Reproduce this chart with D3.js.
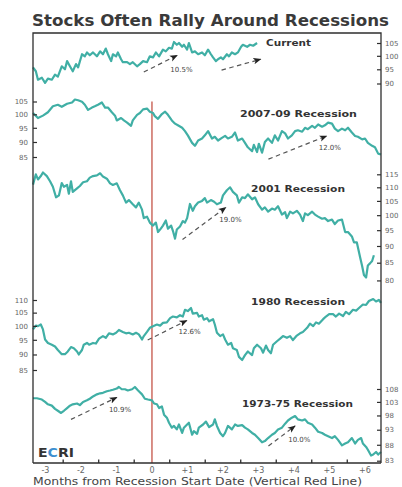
<!DOCTYPE html>
<html><head><meta charset="utf-8">
<script src="https://cdn.jsdelivr.net/npm/d3@7"></script>
<style>html,body{margin:0;padding:0;background:#fff;} svg{display:block;}</style>
</head><body><svg id="c" width="402" height="487"></svg>
<script>
// ---------- DATA (months from recession start, index value) ----------
const current = [[-3.35,95.7],[-3.27,94.3],[-3.21,91.3],[-3.10,92.0],[-3.01,90.2],[-2.93,91.7],[-2.82,91.3],[-2.73,93.1],[-2.65,92.4],[-2.54,96.1],[-2.45,95.0],[-2.39,98.0],[-2.31,96.1],[-2.23,94.3],[-2.14,96.9],[-2.08,95.7],[-1.97,100.6],[-1.89,99.8],[-1.83,101.3],[-1.75,100.2],[-1.66,101.3],[-1.55,99.8],[-1.46,101.7],[-1.38,100.6],[-1.30,102.8],[-1.24,100.6],[-1.15,98.0],[-1.10,100.6],[-1.01,99.8],[-0.96,101.3],[-0.87,98.7],[-0.82,97.6],[-0.70,97.6],[-0.62,96.9],[-0.54,97.6],[-0.42,96.1],[-0.34,96.9],[-0.25,98.0],[-0.14,97.6],[-0.06,99.8],[0.03,99.4],[0.11,101.3],[0.20,99.8],[0.31,102.4],[0.39,101.7],[0.48,103.1],[0.56,102.8],[0.62,105.4],[0.70,104.3],[0.76,105.0],[0.85,103.5],[0.90,104.3],[0.99,102.4],[1.04,105.0],[1.13,101.3],[1.21,101.7],[1.30,100.6],[1.41,101.3],[1.49,100.2],[1.58,102.4],[1.66,100.6],[1.72,99.4],[1.80,98.0],[1.86,98.7],[1.94,99.4],[2.00,98.7],[2.11,100.6],[2.17,99.8],[2.25,101.3],[2.34,100.6],[2.42,101.3],[2.51,103.5],[2.56,104.3],[2.68,103.5],[2.76,104.3],[2.85,103.9],[2.96,105.0]];

const rec2007 = [[-3.35,100.5],[-3.21,98.6],[-3.07,99.5],[-2.93,100.8],[-2.79,103.1],[-2.65,103.7],[-2.54,102.9],[-2.39,104.1],[-2.25,104.6],[-2.17,105.8],[-2.08,105.5],[-1.97,104.9],[-1.89,103.7],[-1.80,101.7],[-1.69,102.6],[-1.61,103.1],[-1.52,103.7],[-1.41,104.6],[-1.32,102.6],[-1.24,102.6],[-1.13,100.8],[-1.04,99.5],[-0.99,97.7],[-0.87,98.6],[-0.79,97.7],[-0.70,96.9],[-0.59,95.7],[-0.54,97.7],[-0.42,99.8],[-0.34,100.5],[-0.25,101.9],[-0.14,102.2],[-0.06,101.0],[0.03,100.5],[0.08,99.3],[0.17,98.3],[0.28,100.1],[0.37,101.0],[0.45,99.8],[0.56,97.7],[0.65,96.5],[0.73,95.9],[0.85,95.0],[0.93,93.8],[1.01,92.3],[1.13,89.7],[1.21,88.7],[1.30,90.5],[1.41,91.2],[1.49,92.3],[1.58,93.8],[1.69,91.2],[1.77,91.8],[1.86,90.5],[1.97,91.4],[2.06,92.1],[2.14,91.2],[2.25,91.8],[2.34,93.3],[2.42,90.5],[2.54,91.2],[2.62,89.7],[2.70,88.2],[2.82,86.9],[2.87,89.0],[2.96,86.6],[3.01,89.4],[3.10,86.4],[3.18,90.0],[3.27,91.2],[3.38,89.7],[3.46,92.3],[3.55,90.5],[3.66,93.8],[3.75,93.0],[3.83,91.2],[3.94,92.3],[4.03,93.8],[4.11,94.1],[4.23,93.6],[4.31,95.0],[4.39,94.5],[4.51,95.7],[4.59,95.0],[4.68,96.2],[4.79,95.4],[4.87,95.9],[4.96,96.9],[5.07,96.5],[5.15,94.7],[5.24,93.8],[5.35,94.7],[5.44,94.1],[5.52,95.0],[5.63,93.3],[5.72,92.1],[5.80,91.8],[5.92,90.9],[6.00,91.2],[6.08,89.7],[6.20,88.7],[6.28,88.2],[6.37,86.1],[6.45,85.8]];

const rec2001 = [[-3.35,111.0],[-3.27,115.0],[-3.21,113.0],[-3.13,114.3],[-3.07,115.7],[-2.96,114.3],[-2.87,112.3],[-2.79,110.2],[-2.70,106.3],[-2.62,107.0],[-2.54,111.6],[-2.48,110.2],[-2.39,110.9],[-2.34,107.6],[-2.28,112.3],[-2.23,108.3],[-2.11,109.6],[-2.03,110.5],[-1.94,111.9],[-1.83,112.3],[-1.75,113.7],[-1.66,114.3],[-1.55,114.6],[-1.46,115.4],[-1.38,114.1],[-1.27,113.3],[-1.18,111.5],[-1.10,110.9],[-0.99,111.5],[-0.90,108.9],[-0.82,107.0],[-0.73,104.4],[-0.65,105.3],[-0.54,103.8],[-0.45,102.7],[-0.37,104.4],[-0.28,101.9],[-0.23,99.0],[-0.14,99.5],[-0.06,97.5],[0.03,96.5],[0.11,97.5],[0.17,94.4],[0.25,95.5],[0.31,96.5],[0.39,98.2],[0.45,95.5],[0.54,96.5],[0.59,94.8],[0.65,92.3],[0.70,95.2],[0.79,96.2],[0.87,98.0],[0.93,97.5],[0.99,99.0],[1.07,103.9],[1.15,101.5],[1.21,103.1],[1.30,104.4],[1.41,105.0],[1.49,106.0],[1.55,104.4],[1.66,105.3],[1.75,104.7],[1.83,103.8],[1.94,104.4],[2.00,107.0],[2.11,108.9],[2.20,110.0],[2.28,108.3],[2.39,107.0],[2.45,104.4],[2.54,106.3],[2.62,106.0],[2.70,107.4],[2.82,105.6],[2.90,106.3],[2.99,103.8],[3.10,101.9],[3.18,102.7],[3.27,101.2],[3.38,102.3],[3.46,101.9],[3.55,103.1],[3.66,100.2],[3.75,101.0],[3.80,99.0],[3.89,101.2],[3.97,100.6],[4.08,101.5],[4.17,100.2],[4.25,98.0],[4.31,100.6],[4.39,100.0],[4.51,101.2],[4.59,100.2],[4.68,99.5],[4.79,98.8],[4.87,99.0],[4.96,98.0],[5.07,98.5],[5.15,97.0],[5.24,98.2],[5.35,98.5],[5.44,94.4],[5.52,94.4],[5.63,93.0],[5.69,91.1],[5.77,91.1],[5.86,86.7],[5.92,84.0],[5.97,81.5],[6.03,80.8],[6.08,84.2],[6.14,84.8],[6.20,85.5],[6.25,87.2]];

const rec1980 = [[-3.35,98.7],[-3.27,100.1],[-3.21,99.9],[-3.13,100.5],[-3.07,98.7],[-3.01,95.1],[-2.93,93.9],[-2.82,93.3],[-2.73,92.7],[-2.65,91.5],[-2.54,90.1],[-2.45,90.1],[-2.37,91.0],[-2.28,92.5],[-2.20,92.1],[-2.11,91.0],[-2.06,90.0],[-1.97,91.5],[-1.92,93.3],[-1.83,93.9],[-1.77,93.3],[-1.66,93.9],[-1.58,93.7],[-1.49,95.4],[-1.38,96.3],[-1.30,95.7],[-1.21,97.3],[-1.10,96.9],[-1.01,97.5],[-0.93,98.5],[-0.82,97.8],[-0.73,97.3],[-0.65,97.5],[-0.54,96.9],[-0.45,97.5],[-0.37,96.9],[-0.28,95.1],[-0.23,96.3],[-0.14,97.8],[-0.06,99.3],[0.03,99.9],[0.14,100.5],[0.23,100.1],[0.31,101.1],[0.42,101.3],[0.51,102.9],[0.59,103.5],[0.70,103.2],[0.79,104.0],[0.87,103.5],[0.93,106.1],[1.01,105.6],[1.10,106.8],[1.15,104.6],[1.27,104.9],[1.32,103.5],[1.41,104.0],[1.46,102.3],[1.55,102.9],[1.61,101.7],[1.72,102.5],[1.77,100.5],[1.83,97.5],[1.92,96.3],[2.00,96.9],[2.06,95.1],[2.14,93.3],[2.23,93.9],[2.28,92.1],[2.39,91.5],[2.45,89.2],[2.54,88.2],[2.62,89.8],[2.70,91.0],[2.82,89.8],[2.87,92.1],[2.96,93.3],[3.07,92.1],[3.13,90.6],[3.21,93.0],[3.27,91.5],[3.35,90.4],[3.41,93.3],[3.52,94.5],[3.61,95.4],[3.69,96.3],[3.80,95.7],[3.89,96.3],[3.97,94.9],[4.08,96.5],[4.17,97.3],[4.25,97.8],[4.37,99.3],[4.45,100.8],[4.54,99.9],[4.62,101.3],[4.70,100.8],[4.82,102.5],[4.90,103.5],[4.99,104.4],[5.10,104.4],[5.18,103.5],[5.27,104.6],[5.38,103.7],[5.46,105.3],[5.55,104.4],[5.66,106.1],[5.75,105.8],[5.83,106.8],[5.94,108.2],[6.03,108.0],[6.11,109.6],[6.23,110.4],[6.31,109.4],[6.39,110.0],[6.45,108.8]];

const rec1973 = [[-3.35,104.4],[-3.24,104.4],[-3.10,103.9],[-3.01,103.0],[-2.93,102.1],[-2.82,101.6],[-2.73,100.4],[-2.65,99.7],[-2.56,98.9],[-2.48,99.7],[-2.39,100.7],[-2.31,101.6],[-2.23,102.1],[-2.11,102.4],[-2.03,101.8],[-1.94,103.0],[-1.83,103.6],[-1.75,104.2],[-1.66,105.1],[-1.55,105.9],[-1.46,106.3],[-1.38,106.5],[-1.27,107.1],[-1.18,107.4],[-1.10,107.7],[-0.99,108.2],[-0.93,108.8],[-0.85,107.9],[-0.76,107.9],[-0.68,107.4],[-0.56,107.9],[-0.48,108.8],[-0.39,107.4],[-0.28,105.9],[-0.20,104.2],[-0.11,103.9],[0.00,103.6],[0.06,102.4],[0.14,102.1],[0.20,100.7],[0.28,101.3],[0.34,98.3],[0.42,97.2],[0.48,95.4],[0.56,93.7],[0.62,94.3],[0.70,93.1],[0.76,94.8],[0.85,91.9],[0.90,93.7],[0.99,94.8],[1.04,95.4],[1.13,91.3],[1.18,92.5],[1.27,91.6],[1.32,93.7],[1.44,94.8],[1.52,95.8],[1.61,93.9],[1.72,94.8],[1.77,96.6],[1.83,94.3],[1.92,91.9],[2.00,90.8],[2.06,91.9],[2.14,94.3],[2.25,93.1],[2.34,94.8],[2.42,94.3],[2.54,94.6],[2.62,93.7],[2.70,93.1],[2.82,91.9],[2.90,91.3],[2.99,90.2],[3.10,88.8],[3.18,89.2],[3.27,90.2],[3.38,91.3],[3.46,91.9],[3.55,93.1],[3.66,93.7],[3.75,95.1],[3.83,96.2],[3.94,97.2],[4.03,97.8],[4.11,96.6],[4.23,96.2],[4.31,96.6],[4.39,95.4],[4.51,94.8],[4.59,93.7],[4.68,92.3],[4.79,91.9],[4.87,91.3],[4.96,90.8],[5.07,90.2],[5.15,90.8],[5.24,89.6],[5.35,87.8],[5.44,88.4],[5.52,88.8],[5.63,90.2],[5.72,88.4],[5.80,89.6],[5.89,90.2],[5.94,88.4],[6.03,87.3],[6.08,86.4],[6.17,84.6],[6.23,84.9],[6.31,85.7],[6.37,84.9],[6.45,85.7]];

const panelNames = ["Current", "2007-09 Recession", "2001 Recession", "1980 Recession", "1973-75 Recession"];
const panelTicks = [
  [90, 95, 100, 105],
  [85, 90, 95, 100, 105],
  [80, 85, 90, 95, 100, 105, 110, 115],
  [85, 90, 95, 100, 105, 110],
  [83, 88, 93, 98, 103, 108]
];
const xTickValues = [-3, -2, -1, 0, 1, 2, 3, 4, 5, 6];
const xTickLabels = ["-3", "-2", "-1", "0", "+1", "+2", "+3", "+4", "+5", "+6"];
const xMinorTicks = [-2.5, -1.5, -0.5, 0.5, 1.5, 2.5, 3.5, 4.5, 5.5];
// rally arrows: panel, start month, start value, end month, end value
const arrowPanel = [0, 0, 1, 2, 3, 4, 4];
const arrowFrom  = [[-0.23, 94.0], [1.96, 94.7], [3.28, 84.3], [0.86, 92.0], [-0.12, 94.9], [-2.28, 96.6], [3.28, 87.6]];
const arrowTo    = [[0.71, 100.2], [3.06, 98.7], [4.92, 92.1], [2.08, 102.7], [0.98, 102.0], [-0.99, 104.7], [4.03, 94.3]];
const gainLabels = ["10.5%", "12.0%", "19.0%", "12.6%", "10.9%", "10.0%"];
const gainPanel  = [0, 1, 2, 3, 4, 4];
const gainPos    = [[0.83, 94.1], [5.01, 87.2], [2.21, 97.7], [1.06, 97.1], [-0.90, 99.3], [4.15, 88.8]];

// ---------- LAYOUT ----------
const L = 33, R = 381, T = 33, B = 463;
const svg = d3.select("#c");
const teal = "#40afa5", ink = "#2e2e2e";
const x = d3.scaleLinear().domain([-3.35, 6.45]).range([L, R]);

const panels = [
  {side: "right", dom: [90, 105], rng: [83.5, 43],    lab: [266, 46],    lw: 45},
  {side: "left",  dom: [85, 105], rng: [157, 101.5],  lab: [240, 116.5], lw: 117},
  {side: "right", dom: [85, 110], rng: [262.7, 187.3],lab: [251, 191.7], lw: 94},
  {side: "left",  dom: [85, 110], rng: [370, 300],    lab: [251, 305],   lw: 94},
  {side: "right", dom: [83, 108], rng: [460.7, 389],  lab: [242, 407],   lw: 111}
];
const seriesList = [current, rec2007, rec2001, rec1980, rec1973];
panels.forEach(p => { p.y = d3.scaleLog().domain(p.dom).range(p.rng); });

svg.append("defs").append("marker")
  .attr("id", "ah").attr("viewBox", "0 0 10 10").attr("refX", 9).attr("refY", 5)
  .attr("markerWidth", 8).attr("markerHeight", 8).attr("orient", "auto")
  .attr("markerUnits", "userSpaceOnUse")
  .append("path").attr("d", "M0,1 L10,5 L0,9 L2.5,5 Z").attr("fill", "#222");

svg.append("text").attr("x", 32).attr("y", 26)
  .attr("font-family", "DejaVu Sans, sans-serif").attr("font-weight", "bold")
  .attr("font-size", 16.5).attr("fill", "#3a3a3a")
  .attr("textLength", 357).attr("lengthAdjust", "spacingAndGlyphs")
  .text("Stocks Often Rally Around Recessions");

svg.append("line").attr("x1", x(0)).attr("x2", x(0)).attr("y1", 101.5).attr("y2", B)
  .attr("stroke", "#cc6b60").attr("stroke-width", 1.5);

const line = d3.line().x(d => x(d[0]));
seriesList.forEach((s, i) => {
  const p = panels[i];
  svg.append("path").datum(s)
    .attr("d", line.y(d => p.y(d[1])))
    .attr("fill", "none").attr("stroke", teal).attr("stroke-width", 2.2)
    .attr("stroke-linejoin", "round");
});

panels.forEach((p, i) => {
  const g = svg.append("g");
  const isRight = p.side === "right";
  const ax = isRight ? d3.axisRight(p.y) : d3.axisLeft(p.y);
  ax.tickValues(panelTicks[i]).tickFormat(d3.format("d")).tickSize(0).tickPadding(isRight ? 4 : 5);
  g.attr("transform", `translate(${isRight ? R : L},0)`).call(ax);
  g.select(".domain").remove();
  g.selectAll("text").attr("font-family", "DejaVu Sans, sans-serif").attr("font-size", 7)
    .attr("fill", "#666");
  g.selectAll(".tick").append("line")
    .attr("x1", 0).attr("x2", isRight ? -4 : 4)
    .attr("stroke", ink).attr("stroke-width", 1.2);
  svg.append("text").attr("x", p.lab[0]).attr("y", p.lab[1])
    .attr("font-family", "DejaVu Sans, sans-serif").attr("font-weight", "bold")
    .attr("font-size", 9.5).attr("fill", "#333")
    .attr("textLength", p.lw).attr("lengthAdjust", "spacingAndGlyphs")
    .text(panelNames[i]);
});

arrowPanel.forEach((pi, k) => {
  const p = panels[pi];
  svg.append("line")
    .attr("x1", x(arrowFrom[k][0])).attr("y1", p.y(arrowFrom[k][1]))
    .attr("x2", x(arrowTo[k][0])).attr("y2", p.y(arrowTo[k][1]))
    .attr("stroke", "#555").attr("stroke-width", 1.2).attr("stroke-dasharray", "4.5,3.5")
    .attr("marker-end", "url(#ah)");
});
gainLabels.forEach((t, k) => {
  const p = panels[gainPanel[k]];
  svg.append("text").attr("x", x(gainPos[k][0])).attr("y", p.y(gainPos[k][1]))
    .attr("text-anchor", "middle").attr("font-family", "DejaVu Sans, sans-serif")
    .attr("font-size", 7).attr("fill", "#444").text(t);
});

svg.append("path").attr("d", `M${L},${B} L${L},${T} L${R},${T} L${R},${B}`)
  .attr("fill", "none").attr("stroke", ink).attr("stroke-width", 1.3);

const gx = svg.append("g").attr("transform", `translate(0,${B})`);
gx.append("line").attr("x1", L).attr("x2", R).attr("stroke", ink).attr("stroke-width", 1.5);
gx.selectAll(".mt").data(xMinorTicks).enter().append("line")
  .attr("x1", d => x(d)).attr("x2", d => x(d)).attr("y1", 0).attr("y2", -3.5)
  .attr("stroke", ink).attr("stroke-width", 1.3);
gx.selectAll(".xl").data(xTickValues).enter().append("text")
  .attr("x", d => x(d)).attr("y", 10).attr("text-anchor", "middle")
  .attr("font-family", "DejaVu Sans, sans-serif").attr("font-size", 8).attr("fill", "#666")
  .text((d, i) => xTickLabels[i]);

svg.append("text").attr("x", 33).attr("y", 485)
  .attr("font-family", "DejaVu Sans, sans-serif").attr("font-size", 10).attr("fill", "#444")
  .attr("textLength", 329).attr("lengthAdjust", "spacingAndGlyphs")
  .text("Months from Recession Start Date (Vertical Red Line)");

const logo = svg.append("text").attr("x", 38).attr("y", 457.3)
  .attr("font-family", "DejaVu Sans, sans-serif").attr("font-weight", "bold")
  .attr("font-size", 11.5).attr("fill", "#333")
  .attr("textLength", 36).attr("lengthAdjust", "spacingAndGlyphs");
logo.append("tspan").text("E");
logo.append("tspan").attr("fill", "#3d8fd0").text("C");
logo.append("tspan").text("RI");
</script></body></html>
